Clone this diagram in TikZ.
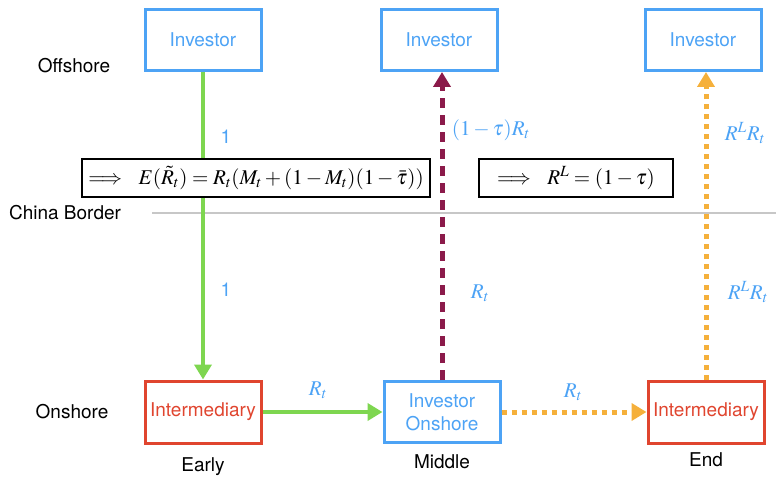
\documentclass[tikz,border=0pt]{standalone}
\usepackage{mathptmx}
\usepackage[no-math]{fontspec}
\setmainfont{TeX Gyre Heros}
\usepackage{tikz}
\usetikzlibrary{arrows.meta}

\definecolor{invblue}{RGB}{77,163,245}
\definecolor{midred}{RGB}{224,69,47}
\definecolor{flowgreen}{RGB}{126,214,80}
\definecolor{flowpurple}{RGB}{139,26,74}
\definecolor{floworange}{RGB}{245,176,59}

\begin{document}
\begin{tikzpicture}[x=1pt,y=-1pt
			,every node/.append style={font=\fontsize{19}{23}\selectfont}
			,inv/.style={draw=invblue, text=invblue, line width=3pt, minimum width=116pt, minimum height=61pt, inner sep=2pt}
			,mid/.style={draw=midred, text=midred, line width=3pt, minimum width=116pt, minimum height=62pt, inner sep=2pt}
			,eq/.style={draw, fill=white, line width=2pt, minimum height=38pt, inner sep=4pt, font=\fontsize{21}{25}\selectfont}
			,lab/.style={text=invblue}
			,mlab/.style={text=invblue, font=\fontsize{21}{25}\selectfont}
			,tip/.style={-{Triangle[width=17pt,length=15pt]}}
		]
			\useasboundingbox (0,0) rectangle (776,478);
			% places
			\node (off) at (74,66) {Offshore};
			\node (ons) at (72,412) {Onshore};
			\node (cb) at (65,213) {China Border};
			\draw [black!22, line width=1.5pt] (152,213) -- (776,213);
			% boxes
			\node [inv] (invA) at (203,40) {Investor};
			\node [inv] (invB) at (439,40) {Investor};
			\node [inv] (invC) at (703,40) {Investor};
			\node [mid] (midA) at (203,412) {Intermediary};
			\node [inv, align=center] (invD) at (442,412) {Investor\\Onshore};
			\node [mid] (midB) at (706,412) {Intermediary};
			\node (early) at (203,467) {Early};
			\node (middle) at (442,462) {Middle};
			\node (endt) at (706,460) {End};
			% flows
			\draw [tip, flowgreen, line width=4pt] (invA) -- (midA);
			\draw [tip, flowgreen, line width=4pt] (midA) -- (invD);
			\draw [tip, flowpurple, line width=5pt, dash pattern=on 10pt off 7pt] (invD.north) -- (invD.north |- invB.south);
			\draw [tip, floworange, line width=5pt, dash pattern=on 5pt off 5pt] (invD) -- (midB);
			\draw [tip, floworange, line width=5pt, dash pattern=on 5pt off 5pt] (midB.north) -- (midB.north |- invC.south);
			% amounts
			\node [lab] (oneA) at (226,137) {1};
			\node [lab] (oneB) at (226,290) {1};
			\node [mlab] (tauR) at (491,130) {$(1-\tau)R_t$};
			\node [mlab] (rtB) at (480,293) {$R_t$};
			\node [mlab] (rlA) at (745,133) {$R^LR_t$};
			\node [mlab] (rlB) at (748,292) {$R^LR_t$};
			\node [mlab] (rtC) at (318,390) {$R_t$};
			\node [mlab] (rtD) at (573,392) {$R_t$};
			% results
			\node [eq, minimum width=348pt] (eqA) at (256,178) {$\Longrightarrow\ \ E(\tilde{R}_t)=R_t(M_t+(1-M_t)(1-\bar{\tau}))$};
			\node [eq, minimum width=194pt] (eqB) at (576,178) {$\Longrightarrow\ \ R^L=(1-\tau)$};
		\end{tikzpicture}
\end{document}
